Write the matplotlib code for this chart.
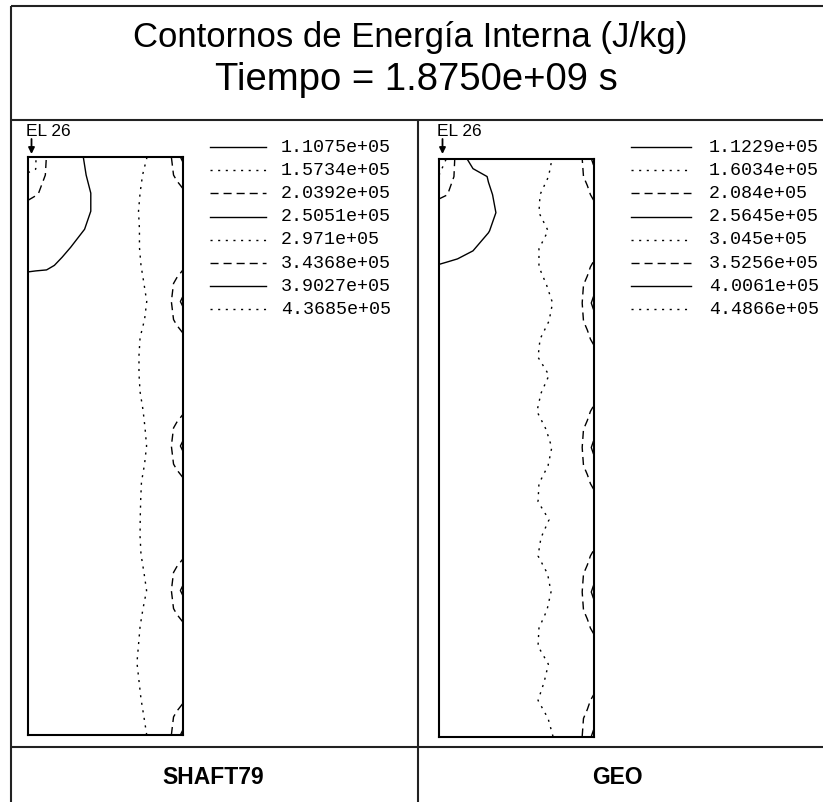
import numpy as np
import matplotlib
matplotlib.use("Agg")
import matplotlib.pyplot as plt
from matplotlib.lines import Line2D
from matplotlib.patches import FancyArrowPatch
from matplotlib.transforms import Affine2D

plt.rcParams['lines.scale_dashes'] = False

# ---------------------------------------------------------------------------
# Data: internal energy (units of 1e5 J/kg) on the (radius, depth) grid,
# both axes normalised to the model extent; depth grows downwards.
# ---------------------------------------------------------------------------
x_nodes = [0.0, 0.05, 0.12, 0.22, 0.32, 0.42, 0.52, 0.60, 0.78, 0.86, 0.92, 0.96, 1.0]
z_nodes = np.linspace(0.0, 1.0, 33)

energy_shaft79 = [
    [1.40, 1.56, 2.05, 2.30, 2.45, 2.60, 2.75, 2.803, 2.983, 3.20, 3.40, 3.70, 4.05],
    [1.60, 1.58, 2.10, 2.32, 2.45, 2.55, 2.75, 2.832, 3.012, 3.18, 3.38, 3.50, 3.55],
    [1.90, 2.00, 2.15, 2.30, 2.42, 2.52, 2.75, 2.848, 3.028, 3.15, 3.22, 3.30, 3.40],
    [2.25, 2.27, 2.30, 2.35, 2.42, 2.52, 2.75, 2.858, 3.038, 3.12, 3.18, 3.24, 3.30],
    [2.30, 2.32, 2.36, 2.42, 2.46, 2.56, 2.75, 2.852, 3.032, 3.12, 3.18, 3.24, 3.30],
    [2.36, 2.38, 2.42, 2.45, 2.55, 2.60, 2.75, 2.852, 3.032, 3.12, 3.18, 3.24, 3.30],
    [2.44, 2.45, 2.46, 2.55, 2.62, 2.68, 2.75, 2.842, 3.022, 3.15, 3.22, 3.30, 3.40],
    [2.62, 2.63, 2.64, 2.66, 2.68, 2.71, 2.75, 2.823, 3.003, 3.18, 3.38, 3.50, 3.55],
    [2.62, 2.63, 2.64, 2.66, 2.68, 2.71, 2.75, 2.805, 2.985, 3.20, 3.40, 3.70, 4.05],
    [2.62, 2.63, 2.64, 2.66, 2.68, 2.71, 2.75, 2.819, 2.999, 3.18, 3.38, 3.50, 3.55],
    [2.62, 2.63, 2.64, 2.66, 2.68, 2.71, 2.75, 2.848, 3.028, 3.15, 3.22, 3.30, 3.40],
    [2.62, 2.63, 2.64, 2.66, 2.68, 2.71, 2.75, 2.855, 3.035, 3.12, 3.18, 3.24, 3.30],
    [2.62, 2.63, 2.64, 2.66, 2.68, 2.71, 2.75, 2.855, 3.035, 3.12, 3.18, 3.24, 3.30],
    [2.62, 2.63, 2.64, 2.66, 2.68, 2.71, 2.75, 2.848, 3.028, 3.12, 3.18, 3.24, 3.30],
    [2.62, 2.63, 2.64, 2.66, 2.68, 2.71, 2.75, 2.829, 3.009, 3.15, 3.22, 3.30, 3.40],
    [2.62, 2.63, 2.64, 2.66, 2.68, 2.71, 2.75, 2.816, 2.996, 3.18, 3.38, 3.50, 3.55],
    [2.62, 2.63, 2.64, 2.66, 2.68, 2.71, 2.75, 2.806, 2.986, 3.20, 3.40, 3.70, 4.05],
    [2.62, 2.63, 2.64, 2.66, 2.68, 2.71, 2.75, 2.819, 2.999, 3.18, 3.38, 3.50, 3.55],
    [2.62, 2.63, 2.64, 2.66, 2.68, 2.71, 2.75, 2.839, 3.019, 3.15, 3.22, 3.30, 3.40],
    [2.62, 2.63, 2.64, 2.66, 2.68, 2.71, 2.75, 2.844, 3.024, 3.12, 3.18, 3.24, 3.30],
    [2.62, 2.63, 2.64, 2.66, 2.68, 2.71, 2.75, 2.847, 3.027, 3.12, 3.18, 3.24, 3.30],
    [2.62, 2.63, 2.64, 2.66, 2.68, 2.71, 2.75, 2.848, 3.028, 3.12, 3.18, 3.24, 3.30],
    [2.62, 2.63, 2.64, 2.66, 2.68, 2.71, 2.75, 2.842, 3.022, 3.15, 3.22, 3.30, 3.40],
    [2.62, 2.63, 2.64, 2.66, 2.68, 2.71, 2.75, 2.823, 3.003, 3.18, 3.38, 3.50, 3.55],
    [2.62, 2.63, 2.64, 2.66, 2.68, 2.71, 2.75, 2.806, 2.986, 3.20, 3.40, 3.70, 4.05],
    [2.62, 2.63, 2.64, 2.66, 2.68, 2.71, 2.75, 2.829, 3.009, 3.18, 3.38, 3.50, 3.55],
    [2.62, 2.63, 2.64, 2.66, 2.68, 2.71, 2.75, 2.848, 3.028, 3.15, 3.22, 3.30, 3.40],
    [2.62, 2.63, 2.64, 2.66, 2.68, 2.71, 2.75, 2.858, 3.038, 3.12, 3.18, 3.24, 3.30],
    [2.62, 2.63, 2.64, 2.66, 2.68, 2.71, 2.75, 2.868, 3.048, 3.12, 3.18, 3.24, 3.30],
    [2.62, 2.63, 2.64, 2.66, 2.68, 2.71, 2.75, 2.855, 3.035, 3.12, 3.18, 3.24, 3.30],
    [2.62, 2.63, 2.64, 2.66, 2.68, 2.71, 2.75, 2.842, 3.022, 3.15, 3.22, 3.30, 3.40],
    [2.62, 2.63, 2.64, 2.66, 2.68, 2.71, 2.75, 2.823, 3.003, 3.18, 3.38, 3.50, 3.55],
    [2.62, 2.63, 2.64, 2.66, 2.68, 2.71, 2.75, 2.805, 2.985, 3.20, 3.40, 3.70, 4.05],
]

energy_geo = [
    [1.45, 1.61, 2.248, 2.775, 2.80, 2.82, 2.85, 2.913, 3.093, 3.30, 3.48, 3.75, 4.15],
    [1.615, 1.85, 2.20, 2.40, 2.58, 2.75, 2.85, 2.936, 3.116, 3.28, 3.48, 3.60, 3.75],
    [1.95, 2.07, 2.25, 2.42, 2.53, 2.66, 2.85, 2.991, 3.171, 3.25, 3.35, 3.45, 3.60],
    [2.51, 2.52, 2.53, 2.54, 2.55, 2.58, 2.85, 2.998, 3.178, 3.22, 3.28, 3.32, 3.35],
    [2.52, 2.525, 2.53, 2.54, 2.56, 2.62, 2.85, 2.939, 3.119, 3.22, 3.28, 3.32, 3.35],
    [2.53, 2.535, 2.545, 2.56, 2.60, 2.68, 2.85, 2.998, 3.178, 3.22, 3.28, 3.32, 3.35],
    [2.57, 2.575, 2.58, 2.60, 2.65, 2.72, 2.85, 2.998, 3.178, 3.25, 3.35, 3.45, 3.60],
    [2.62, 2.63, 2.65, 2.68, 2.72, 2.76, 2.85, 2.949, 3.129, 3.28, 3.48, 3.60, 3.75],
    [2.62, 2.63, 2.65, 2.68, 2.72, 2.76, 2.85, 2.910, 3.090, 3.30, 3.48, 3.75, 4.15],
    [2.62, 2.63, 2.65, 2.68, 2.72, 2.76, 2.85, 2.933, 3.113, 3.28, 3.48, 3.60, 3.75],
    [2.62, 2.63, 2.65, 2.68, 2.72, 2.76, 2.85, 2.991, 3.171, 3.25, 3.35, 3.45, 3.60],
    [2.62, 2.63, 2.65, 2.68, 2.72, 2.76, 2.85, 3.004, 3.184, 3.22, 3.28, 3.32, 3.35],
    [2.62, 2.63, 2.65, 2.68, 2.72, 2.76, 2.85, 2.933, 3.113, 3.22, 3.28, 3.32, 3.35],
    [2.62, 2.63, 2.65, 2.68, 2.72, 2.76, 2.85, 2.985, 3.165, 3.22, 3.28, 3.32, 3.35],
    [2.62, 2.63, 2.65, 2.68, 2.72, 2.76, 2.85, 3.011, 3.191, 3.25, 3.35, 3.45, 3.60],
    [2.62, 2.63, 2.65, 2.68, 2.72, 2.76, 2.85, 2.952, 3.132, 3.28, 3.48, 3.60, 3.75],
    [2.62, 2.63, 2.65, 2.68, 2.72, 2.76, 2.85, 2.915, 3.095, 3.30, 3.48, 3.75, 4.15],
    [2.62, 2.63, 2.65, 2.68, 2.72, 2.76, 2.85, 2.939, 3.119, 3.28, 3.48, 3.60, 3.75],
    [2.62, 2.63, 2.65, 2.68, 2.72, 2.76, 2.85, 2.998, 3.178, 3.25, 3.35, 3.45, 3.60],
    [2.62, 2.63, 2.65, 2.68, 2.72, 2.76, 2.85, 3.004, 3.184, 3.22, 3.28, 3.32, 3.35],
    [2.62, 2.63, 2.65, 2.68, 2.72, 2.76, 2.85, 2.933, 3.113, 3.22, 3.28, 3.32, 3.35],
    [2.62, 2.63, 2.65, 2.68, 2.72, 2.76, 2.85, 2.985, 3.165, 3.22, 3.28, 3.32, 3.35],
    [2.62, 2.63, 2.65, 2.68, 2.72, 2.76, 2.85, 3.004, 3.184, 3.25, 3.35, 3.45, 3.60],
    [2.62, 2.63, 2.65, 2.68, 2.72, 2.76, 2.85, 2.942, 3.122, 3.28, 3.48, 3.60, 3.75],
    [2.62, 2.63, 2.65, 2.68, 2.72, 2.76, 2.85, 2.920, 3.100, 3.30, 3.48, 3.75, 4.15],
    [2.62, 2.63, 2.65, 2.68, 2.72, 2.76, 2.85, 2.946, 3.126, 3.28, 3.48, 3.60, 3.75],
    [2.62, 2.63, 2.65, 2.68, 2.72, 2.76, 2.85, 2.998, 3.178, 3.25, 3.35, 3.45, 3.60],
    [2.62, 2.63, 2.65, 2.68, 2.72, 2.76, 2.85, 3.004, 3.184, 3.22, 3.28, 3.32, 3.35],
    [2.62, 2.63, 2.65, 2.68, 2.72, 2.76, 2.85, 2.937, 3.117, 3.22, 3.28, 3.32, 3.35],
    [2.62, 2.63, 2.65, 2.68, 2.72, 2.76, 2.85, 2.965, 3.145, 3.22, 3.28, 3.32, 3.35],
    [2.62, 2.63, 2.65, 2.68, 2.72, 2.76, 2.85, 3.004, 3.184, 3.25, 3.35, 3.45, 3.60],
    [2.62, 2.63, 2.65, 2.68, 2.72, 2.76, 2.85, 2.939, 3.119, 3.28, 3.48, 3.60, 3.75],
    [2.62, 2.63, 2.65, 2.68, 2.72, 2.76, 2.85, 2.907, 3.087, 3.30, 3.48, 3.75, 4.15],
]

levels_shaft79 = [1.1075e5, 1.5734e5, 2.0392e5, 2.5051e5, 2.971e5, 3.4368e5, 3.9027e5, 4.3685e5]
levels_geo = [1.1229e5, 1.6034e5, 2.084e5, 2.5645e5, 3.045e5, 3.5256e5, 4.0061e5, 4.4866e5]

panel_names = ["SHAFT79", "GEO"]
title_lines = ["Contornos de Energía Interna (J/kg)", "Tiempo = 1.8750e+09 s"]
element_label = "EL 26"

# solid / dotted / dashed, repeating over the levels (dash lengths in points)
STYLE_CYCLE = ['solid', (0, (1.5, 4.0)), (0, (5.8, 3.6))]

# ---------------------------------------------------------------------------
W, H = 823, 802
fig = plt.figure(figsize=(W / 100, H / 100), dpi=100, facecolor='white')
# pixel coordinates measured from the top-left corner of the figure
PX = Affine2D().scale(1.0 / W, -1.0 / H).translate(0, 1) + fig.transFigure

FRAME = dict(color='#222222', lw=1.5, solid_capstyle='butt', transform=PX)


def hline(x0, x1, y):
    fig.add_artist(Line2D([x0, x1], [y, y], **FRAME))


def vline(x, y0, y1):
    fig.add_artist(Line2D([x, x], [y0, y1], **FRAME))


# outer frame and separators
hline(11, W, 6)
hline(11, W, 120)
hline(11, W, 747)
vline(11, 6, H)
vline(418, 120, H)

# titles
fig.text(410, 37, title_lines[0], transform=PX, ha='center', va='center',
         fontsize=25, family='Liberation Sans')
fig.text(416, 80, title_lines[1], transform=PX, ha='center', va='center',
         fontsize=27.5, family='Liberation Sans')

panels = [
    dict(name=panel_names[0], energy=energy_shaft79, levels=levels_shaft79,
         box=(28, 157, 183, 735), leg_line=(210, 266), leg_text=281, label_x=213),
    dict(name=panel_names[1], energy=energy_geo, levels=levels_geo,
         box=(439, 158.5, 593.5, 736.5), leg_line=(631, 691), leg_text=709, label_x=617),
]

for p in panels:
    x0, y0, x1, y1 = p['box']
    ax = fig.add_axes([x0 / W, 1 - y1 / H, (x1 - x0) / W, (y1 - y0) / H])
    Z = np.asarray(p['energy']) * 1e5
    styles = [STYLE_CYCLE[i % 3] for i in range(len(p['levels']))]
    ax.contour(x_nodes, z_nodes, Z, levels=p['levels'], colors='black',
               linestyles=styles, linewidths=1.0)
    ax.set_xlim(0, 1)
    ax.set_ylim(1, 0)
    ax.set_xticks([])
    ax.set_yticks([])
    for s in ax.spines.values():
        s.set_linewidth(1.5)
        s.set_color('black')

    # element marker above the top-left corner
    fig.text(x0 - 2, 131, element_label, transform=PX, ha='left', va='center',
             fontsize=12.5, family='Liberation Sans')
    fig.add_artist(FancyArrowPatch((x0 + 3.5, 139), (x0 + 3.5, 154), transform=PX,
                                   arrowstyle='-|>', mutation_scale=9,
                                   color='black', lw=1.3, shrinkA=0, shrinkB=0))

    # level key
    for i, lvl in enumerate(p['levels']):
        y = 147 + 23.2 * i
        fig.add_artist(Line2D(list(p['leg_line']), [y, y], transform=PX,
                              color='black', lw=1.0, linestyle=styles[i]))
        fig.text(p['leg_text'], y, '%.5g' % lvl, transform=PX, ha='left',
                 va='center', fontsize=13.2, family='Liberation Mono')

    # model name
    fig.text(p['label_x'], 777, p['name'], transform=PX, ha='center', va='center',
             fontsize=16.5, fontweight='bold', family='Liberation Sans')

fig.savefig('out.png', dpi=100, facecolor='white')
